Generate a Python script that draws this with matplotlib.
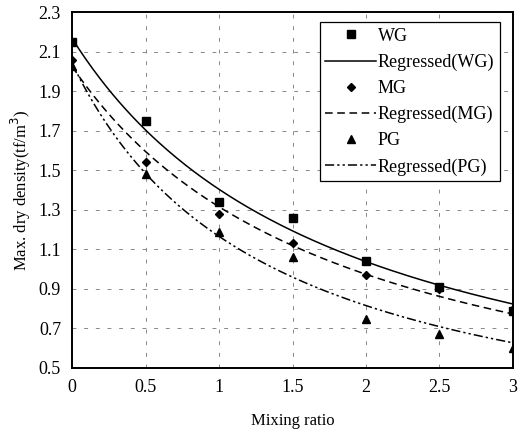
import matplotlib
matplotlib.use("Agg")
import matplotlib.pyplot as plt
import numpy as np

plt.rcParams['font.family'] = ['Liberation Serif', 'DejaVu Serif']

ratio = [0, 0.5, 1, 1.5, 2, 2.5, 3]
wg = [2.15, 1.75, 1.34, 1.26, 1.04, 0.91, 0.79]
mg = [2.06, 1.54, 1.28, 1.13, 0.97, 0.90, 0.80]
pg = [2.03, 1.48, 1.19, 1.06, 0.75, 0.67, 0.60]

xticks = [0, 0.5, 1, 1.5, 2, 2.5, 3]
xticklabels = ['0', '0.5', '1', '1.5', '2', '2.5', '3']
yticks = [0.5, 0.7, 0.9, 1.1, 1.3, 1.5, 1.7, 1.9, 2.1, 2.3]


def fit_hyperbola(x, y):
    # least squares fit of y = a / (1 + b x), scanning b
    x = np.asarray(x, float)
    y = np.asarray(y, float)
    best = None
    for b in np.linspace(0.01, 3, 3000):
        g = 1.0 / (1 + b * x)
        a = (y @ g) / (g @ g)
        err = np.sum((y - a * g) ** 2)
        if best is None or err < best[0]:
            best = (err, a, b)
    return best[1], best[2]


fig = plt.figure(figsize=(5.31, 4.36), dpi=100)
ax = fig.add_axes([0.136, 0.156, 0.83, 0.816])

xs = np.linspace(0, 3, 200)
for data, mk, ms, ls, name in [(wg, 's', 6, '-', 'WG'),
                               (mg, 'D', 4, (0, (5, 3)), 'MG'),
                               (pg, '^', 6, (0, (6, 2, 1.5, 2, 1.5, 2)), 'PG')]:
    ax.plot(ratio, data, linestyle='none', marker=mk, ms=ms, color='black', label=name)
    a, b = fit_hyperbola(ratio, data)
    ax.plot(xs, a / (1 + b * xs), color='black', lw=1.1, linestyle=ls,
            label='Regressed(%s)' % name)

ax.set_xlim(0, 3)
ax.set_ylim(0.5, 2.3)
ax.set_xticks(xticks)
ax.set_xticklabels(xticklabels)
ax.set_yticks(yticks)
ax.tick_params(length=0, labelsize=13, pad=8)
ax.grid(True, color='#888888', linestyle=(0, (4, 8)), lw=0.7)
for s in ax.spines.values():
    s.set_linewidth(1.4)

ax.set_xlabel('Mixing ratio', fontsize=12, labelpad=12)
ax.set_ylabel('Max. dry density(tf/m$^3$)', fontsize=12, labelpad=4)

leg = ax.legend(loc='upper right', bbox_to_anchor=(0.97, 0.972), borderaxespad=0,
                fontsize=13, fancybox=False, edgecolor='black', framealpha=1,
                handlelength=2.8, handletextpad=0.1, labelspacing=0.5,
                borderpad=0.3)
leg.get_frame().set_linewidth(0.9)

fig.savefig('out.png', dpi=100)
